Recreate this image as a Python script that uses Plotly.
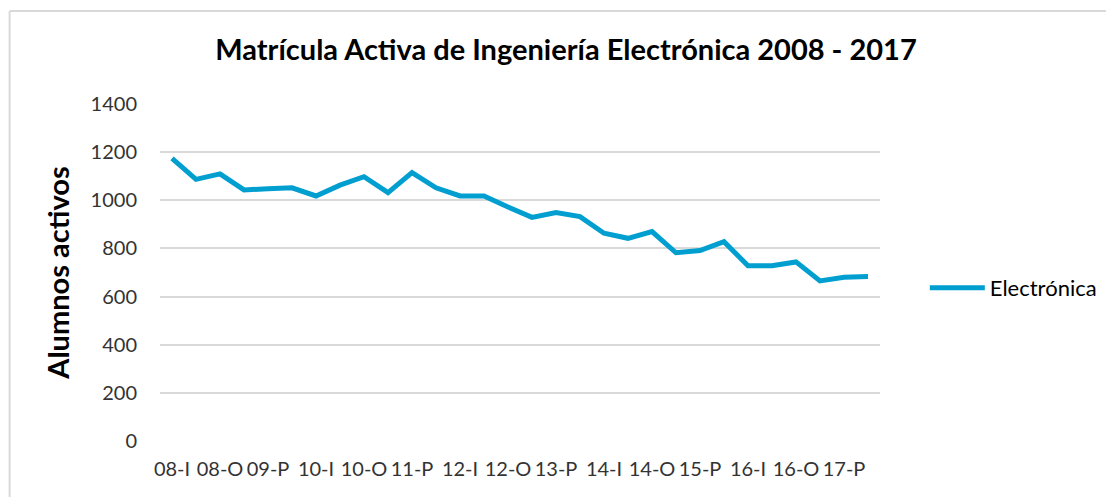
import plotly.graph_objects as go

years = ["08", "09", "10", "11", "12", "13", "14", "15", "16", "17"]
terms = ["I", "P", "O"]
categories = [f"{y}-{t}" for y in years for t in terms]

electronica = [1174, 1087, 1110, 1043, 1048, 1052, 1018, 1063, 1098, 1032,
               1115, 1052, 1018, 1018, 972, 929, 949, 932, 863, 842,
               870, 782, 791, 828, 728, 728, 744, 665, 680, 683]

y_ticks = [0, 200, 400, 600, 800, 1000, 1200, 1400]

FONT = "Lato"
TXT = "#333333"

idx = list(range(len(categories)))
shown = idx[::2]

# screen geometry (page has an 8px body margin)
OFF = 8
SW, SH = 1114, 497
W, H = SW - OFF, SH - OFF
L, R, T, B = 160, 883, 104, 441  # plot area in screen pixels


def px(x):
    return (x - L) / (R - L)


def py(y):
    return (B - y) / (B - T)


fig = go.Figure()
fig.add_trace(go.Scatter(
    x=idx, y=electronica, mode="lines", name="Electrónica",
    line=dict(color="#009FD0", width=5),
))

fig.update_layout(
    width=W, height=H,
    margin=dict(l=L - OFF, r=SW - R, t=T - OFF, b=SH - B),
    paper_bgcolor="white", plot_bgcolor="white",
    font=dict(family=FONT, color=TXT, size=20),
    title=dict(text="<b>Matrícula Activa de Ingeniería Electrónica 2008 - 2017</b>",
               x=(566 - OFF) / W, xanchor="center", y=1 - (50 - OFF) / H, yanchor="middle",
               font=dict(family=FONT, size=29, color="#000000")),
    xaxis=dict(range=[-0.5, len(categories) - 0.5], tickmode="array",
               tickvals=shown, ticktext=[categories[i] for i in shown],
               showgrid=False, zeroline=False, showline=False, ticks="",
               tickfont=dict(size=20, color=TXT), ticklabelstandoff=14),
    yaxis=dict(range=[0, 1400], tickmode="array", tickvals=y_ticks,
               showgrid=True, gridcolor="#d9d9d9", gridwidth=1.5,
               zeroline=False, showline=False, ticks="",
               tickfont=dict(size=20, color=TXT), ticklabelstandoff=22,
               title=dict(text="<b>Alumnos activos</b>", standoff=12,
                          font=dict(family=FONT, size=29, color="#000000"))),
    legend=dict(x=px(928), y=py(288), xanchor="left", yanchor="middle",
                font=dict(size=22, color="#000000"), bgcolor="rgba(0,0,0,0)",
                itemwidth=55),
    showlegend=True,
)

# outer chart border (left and top visible)
fig.add_shape(type="line", xref="paper", yref="paper",
              x0=px(9), x1=px(9), y0=py(11), y1=py(SH + 5),
              line=dict(color="#d9d9d9", width=2))
fig.add_shape(type="line", xref="paper", yref="paper",
              x0=px(9), x1=px(SW + 5), y0=py(11), y1=py(11),
              line=dict(color="#d9d9d9", width=2))

fig.write_html("out.html")
